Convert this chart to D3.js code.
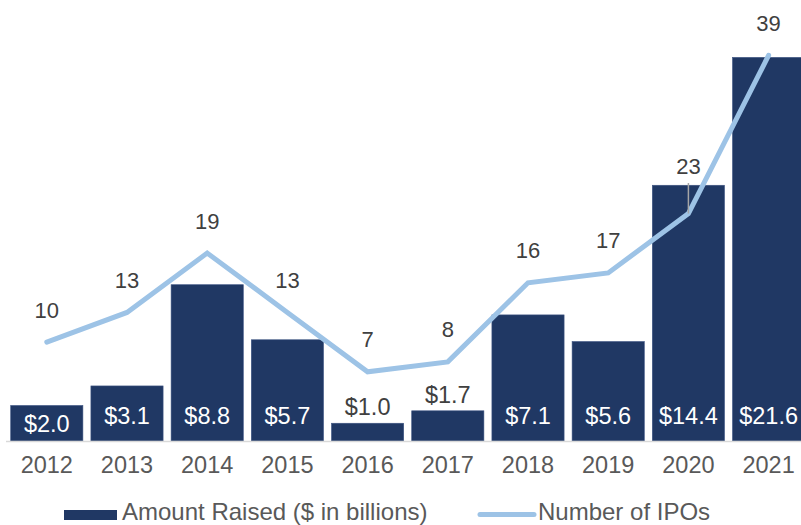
<!DOCTYPE html>
<html lang="en">

<head>
  <meta charset="utf-8">
  <title>IPOs</title>
  <script type="text/javascript" src="https://cdn.jsdelivr.net/npm/d3@7"></script>
  <style>
    body { margin: 0; background: #fff; }
    svg { display: block; }
  </style>
</head>

<body>
  <script type="text/javascript">

    // Data
    var years = ["2012", "2013", "2014", "2015", "2016", "2017", "2018", "2019", "2020", "2021"];
    var amountRaised = [2.0, 3.1, 8.8, 5.7, 1.0, 1.7, 7.1, 5.6, 14.4, 21.6];
    var ipoCount = [10, 13, 19, 13, 7, 8, 16, 17, 23, 39];
    var legendLabels = ["Amount Raised ($ in billions)", "Number of IPOs"];

    var w = 801;
    var h = 525;
    var baseY = 441;
    var font = "'Liberation Sans', Arial, Helvetica, sans-serif";
    var navy = "#203864";
    var lightBlue = "#9dc3e6";

    // x scale
    var xScale = d3.scaleBand()
      .domain(years)
      .range([6.7, 808.7])
      .paddingInner(0.1)
      .paddingOuter(0.05);

    // y scales (bars and line share the baseline)
    var yBar = d3.scaleLinear().domain([0, 25]).range([baseY, -3]);
    var yLine = d3.scaleLinear().domain([0, 45]).range([baseY, -4]);

    var cx = function (i) {
      return xScale(years[i]) + xScale.bandwidth() / 2;
    };

    var svg = d3.select("body")
      .append("svg")
      .attr("width", w)
      .attr("height", h)
      .style("font-family", font);

    // bars
    svg.append("g")
      .selectAll("rect")
      .data(amountRaised)
      .enter()
      .append("rect")
      .attr("x", function (d, i) { return xScale(years[i]); })
      .attr("y", function (d) { return yBar(d); })
      .attr("width", xScale.bandwidth())
      .attr("height", function (d) { return baseY - yBar(d); })
      .attr("fill", navy)
      .attr("stroke", "#3d5482")
      .attr("stroke-width", 0.6);

    // baseline
    svg.append("line")
      .attr("x1", 6)
      .attr("x2", w)
      .attr("y1", baseY + 0.5)
      .attr("y2", baseY + 0.5)
      .attr("stroke", "#d9d9d9")
      .attr("stroke-width", 1.5);

    // year labels
    svg.append("g")
      .selectAll("text")
      .data(years)
      .enter()
      .append("text")
      .attr("x", function (d, i) { return cx(i); })
      .attr("y", 473)
      .attr("text-anchor", "middle")
      .attr("font-size", "23.5px")
      .attr("fill", "#595959")
      .text(function (d) { return d; });

    // line
    var line = d3.line()
      .x(function (d, i) { return cx(i); })
      .y(function (d) { return yLine(d); });

    svg.append("path")
      .datum(ipoCount)
      .attr("d", line)
      .attr("fill", "none")
      .attr("stroke", lightBlue)
      .attr("stroke-width", 5)
      .attr("stroke-linecap", "round")
      .attr("stroke-linejoin", "miter");

    // bar value labels
    svg.append("g")
      .selectAll("text")
      .data(amountRaised)
      .enter()
      .append("text")
      .attr("x", function (d, i) { return cx(i); })
      .attr("y", function (d) {
        var hgt = baseY - yBar(d);
        if (hgt < 33) return yBar(d) - 8;
        return Math.max(424, yBar(d) + hgt / 2 + 8.5);
      })
      .attr("text-anchor", "middle")
      .attr("font-size", "23.5px")
      .attr("fill", function (d) {
        return (baseY - yBar(d)) < 33 ? "#404040" : "#ffffff";
      })
      .text(function (d) { return "$" + d.toFixed(1); });

    // leader line for the 2020 label
    svg.append("line")
      .attr("x1", cx(8))
      .attr("x2", cx(8))
      .attr("y1", 183)
      .attr("y2", yLine(ipoCount[8]))
      .attr("stroke", "#a6a6a6")
      .attr("stroke-width", 1.5);

    // line value labels
    svg.append("g")
      .selectAll("text")
      .data(ipoCount)
      .enter()
      .append("text")
      .attr("x", function (d, i) { return cx(i); })
      .attr("y", function (d, i) {
        return yLine(d) - (years[i] == "2020" ? 40 : 24.5);
      })
      .attr("text-anchor", "middle")
      .attr("font-size", "22px")
      .attr("fill", "#404040")
      .text(function (d) { return d; });

    // legend
    var legend = svg.append("g");

    legend.append("rect")
      .attr("x", 64)
      .attr("y", 510)
      .attr("width", 53)
      .attr("height", 10)
      .attr("fill", navy);

    legend.append("text")
      .attr("x", 122)
      .attr("y", 519.5)
      .attr("font-size", "24px")
      .attr("fill", "#595959")
      .text(legendLabels[0]);

    legend.append("line")
      .attr("x1", 480)
      .attr("x2", 534)
      .attr("y1", 514.5)
      .attr("y2", 514.5)
      .attr("stroke", lightBlue)
      .attr("stroke-width", 5)
      .attr("stroke-linecap", "round");

    legend.append("text")
      .attr("x", 538)
      .attr("y", 519.5)
      .attr("font-size", "24px")
      .attr("fill", "#595959")
      .text(legendLabels[1]);

  </script>
</body>

</html>
